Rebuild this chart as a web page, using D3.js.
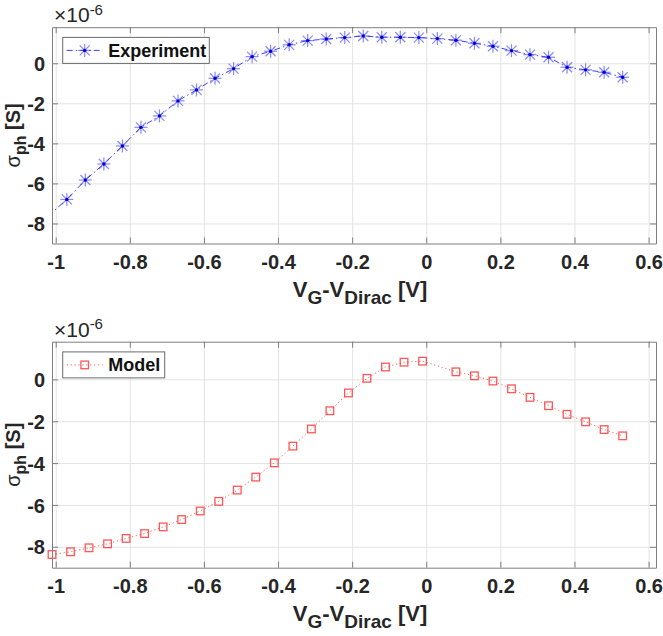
<!DOCTYPE html>
<html><head><meta charset="utf-8">
<script src="https://cdn.jsdelivr.net/npm/d3@7"></script>
<style>body{margin:0;background:#fff}</style>
</head><body>
<svg id="c" width="663" height="636"></svg>
<script>
// ---- data (sigma_ph in units of 1e-6 S) ----
const expX = [-1.02,-0.97,-0.92,-0.87,-0.82,-0.77,-0.72,-0.67,-0.62,-0.57,-0.52,-0.47,-0.42,-0.37,-0.32,-0.27,-0.22,-0.17,-0.12,-0.07,-0.02,0.03,0.08,0.13,0.18,0.23,0.28,0.33,0.38,0.43,0.48,0.53];
const expY = [-7.62,-6.8,-5.83,-5.03,-4.13,-3.2,-2.63,-1.88,-1.33,-0.75,-0.27,0.33,0.6,0.92,1.13,1.21,1.28,1.36,1.3,1.3,1.28,1.23,1.15,1.0,0.85,0.63,0.43,0.3,-0.2,-0.33,-0.45,-0.7];
const modX = [-1.01,-0.96,-0.91,-0.86,-0.81,-0.76,-0.71,-0.66,-0.61,-0.56,-0.51,-0.46,-0.41,-0.36,-0.31,-0.26,-0.21,-0.16,-0.11,-0.06,-0.01,0.08,0.13,0.18,0.23,0.28,0.33,0.38,0.43,0.48,0.53];
const modY = [-8.37,-8.24,-8.05,-7.86,-7.6,-7.37,-7.05,-6.7,-6.29,-5.83,-5.29,-4.67,-3.99,-3.19,-2.37,-1.5,-0.65,0.05,0.59,0.82,0.87,0.36,0.17,-0.08,-0.45,-0.86,-1.26,-1.67,-2.03,-2.4,-2.7];
const xTicks = [-1,-0.8,-0.6,-0.4,-0.2,0,0.2,0.4,0.6];
const xTickLabels = ["-1","-0.8","-0.6","-0.4","-0.2","0","0.2","0.4","0.6"];
const yTicks = [-8,-6,-4,-2,0];
const yTickLabels = ["-8","-6","-4","-2","0"];
const seriesNames = ["Experiment","Model"];
const xDomain = [-1.01, 0.62];
const yDomain = [-9, 1.8];

const svg = d3.select("#c");
const FONT = "'Liberation Sans', Arial, Helvetica, sans-serif";
const TXT = "#262626";
const BOX = "#7f7f7f";

const panels = [
  {left:52, right:656, top:27.2, bottom:243.5, xs:expX, ys:expY, name:seriesNames[0], color:"#2b2bff", marker:"star", dash:"6,3,1.5,3", lw:1, legendW:146.6},
  {left:52, right:656, top:341.7, bottom:567.7, xs:modX, ys:modY, name:seriesNames[1], color:"#ff3a3a", marker:"square", dash:"1.3,2.6", lw:1, legendW:102}
];

panels.forEach((p, i) => {
  const x = d3.scaleLinear().domain(xDomain).range([p.left, p.right]);
  const y = d3.scaleLinear().domain(yDomain).range([p.bottom, p.top]);
  const W = p.right - p.left, H = p.bottom - p.top;
  const g = svg.append("g");

  // grid
  g.append("g").attr("transform", `translate(0,${p.bottom})`)
    .call(d3.axisBottom(x).tickValues(xTicks).tickSize(-H).tickFormat(""))
    .call(s => { s.select(".domain").remove(); s.selectAll("line").attr("stroke", "#e3e3e3").attr("stroke-width", 1); });
  g.append("g").attr("transform", `translate(${p.left},0)`)
    .call(d3.axisLeft(y).tickValues(yTicks).tickSize(-W).tickFormat(""))
    .call(s => { s.select(".domain").remove(); s.selectAll("line").attr("stroke", "#e3e3e3").attr("stroke-width", 1); });

  // clip
  const cid = "clip" + i;
  svg.append("clipPath").attr("id", cid).append("rect")
    .attr("x", p.left).attr("y", p.top).attr("width", W).attr("height", H);

  // data line
  const pts = p.xs.map((v, k) => [v, p.ys[k]]);
  g.append("path").datum(pts).attr("clip-path", `url(#${cid})`)
    .attr("fill", "none").attr("stroke", p.color).attr("stroke-width", p.lw)
    .attr("stroke-dasharray", p.dash).attr("opacity", p.marker === "square" ? 0.75 : 0.9)
    .attr("d", d3.line().x(d => x(d[0])).y(d => y(d[1])));

  const inside = pts.filter(d => d[0] >= xDomain[0] - 1e-9 && d[0] <= xDomain[1]);
  const drawMarker = (sel, cx, cy) => {
    if (p.marker === "star") {
      const r = 6.5, rd = 5;
      const mg = sel.append("g").attr("transform", `translate(${cx},${cy})`)
        .attr("stroke", "#3c3cff").attr("stroke-width", 1.2).attr("opacity", 0.6);
      mg.append("line").attr("x1", 0).attr("y1", -r).attr("x2", 0).attr("y2", r);
      mg.append("line").attr("x1", -r).attr("y1", 0).attr("x2", r).attr("y2", 0);
      mg.append("line").attr("x1", -rd).attr("y1", -rd).attr("x2", rd).attr("y2", rd);
      mg.append("line").attr("x1", -rd).attr("y1", rd).attr("x2", rd).attr("y2", -rd);
      sel.append("circle").attr("cx", cx).attr("cy", cy).attr("r", 1.7).attr("fill", "#0000d0");
    } else {
      const s = 7.6;
      sel.append("rect").attr("x", cx - s / 2).attr("y", cy - s / 2).attr("width", s).attr("height", s)
        .attr("fill", "none").attr("stroke", p.color).attr("stroke-width", 1.3).attr("opacity", 0.85);
    }
  };
  const mk = g.append("g");
  inside.forEach(d => drawMarker(mk, x(d[0]), y(d[1])));

  // box + inward ticks
  const tickStyle = s => { s.select(".domain").attr("stroke", BOX); s.selectAll(".tick line").attr("stroke", BOX); };
  g.append("g").attr("transform", `translate(0,${p.bottom})`)
    .call(d3.axisBottom(x).tickValues(xTicks).tickSizeInner(-6).tickSizeOuter(0).tickFormat((d, k) => xTickLabels[k]))
    .call(tickStyle)
    .call(s => s.selectAll("text").attr("y", 25).attr("dy", null).attr("fill", TXT)
      .style("font-family", FONT).style("font-size", "20px").style("font-weight", "bold"));
  g.append("g").attr("transform", `translate(${p.left},0)`)
    .call(d3.axisLeft(y).tickValues(yTicks).tickSizeInner(-6).tickSizeOuter(0).tickFormat((d, k) => yTickLabels[k]))
    .call(tickStyle)
    .call(s => s.selectAll("text").attr("x", -7).attr("dy", "0.36em").attr("fill", TXT)
      .style("font-family", FONT).style("font-size", "20px").style("font-weight", "bold"));
  g.append("g").attr("transform", `translate(0,${p.top})`)
    .call(d3.axisTop(x).tickValues(xTicks).tickSizeInner(-6).tickSizeOuter(0).tickFormat(""))
    .call(tickStyle);
  g.append("g").attr("transform", `translate(${p.right},0)`)
    .call(d3.axisRight(y).tickValues(yTicks).tickSizeInner(-6).tickSizeOuter(0).tickFormat(""))
    .call(tickStyle);

  // exponent label
  const ex = g.append("text").attr("x", p.left + 2).attr("y", p.top - 5)
    .attr("fill", TXT).style("font-family", FONT).style("font-size", "21px");
  ex.append("tspan").text("×10");
  ex.append("tspan").attr("dy", -7.5).style("font-size", "15px").text("-6");

  // y label
  const yl = g.append("text")
    .attr("transform", `translate(20,${(p.top + p.bottom) / 2}) rotate(-90)`)
    .attr("text-anchor", "middle").attr("fill", TXT)
    .style("font-family", FONT).style("font-size", "20px");
  yl.append("tspan").text("σ");
  yl.append("tspan").attr("dy", 6).style("font-size", "16px").style("font-weight", "bold").text("ph");
  yl.append("tspan").attr("dy", -6).style("font-weight", "bold").text(" [S]");

  // x label
  const xl = g.append("text").attr("x", 360).attr("y", p.bottom + 53)
    .attr("text-anchor", "middle").attr("fill", TXT)
    .style("font-family", FONT).style("font-size", "22px").style("font-weight", "bold");
  xl.append("tspan").text("V");
  xl.append("tspan").attr("dy", 7).style("font-size", "19px").text("G");
  xl.append("tspan").attr("dy", -7).text("-V");
  xl.append("tspan").attr("dy", 7).style("font-size", "19px").text("Dirac");
  xl.append("tspan").attr("dy", -7).text(" [V]");

  // legend
  const lx = 62.7, ly = p.top + 10.2, lh = 26;
  const lg = g.append("g");
  lg.append("rect").attr("x", lx).attr("y", ly).attr("width", p.legendW).attr("height", lh)
    .attr("fill", "#fff").attr("stroke", "#6a6a6a").attr("stroke-width", 1);
  lg.append("line").attr("x1", lx + 4).attr("x2", lx + 40).attr("y1", ly + lh / 2).attr("y2", ly + lh / 2)
    .attr("stroke", p.color).attr("stroke-width", p.lw).attr("stroke-dasharray", p.dash)
    .attr("opacity", p.marker === "square" ? 0.75 : 0.9);
  drawMarker(lg, lx + 22, ly + lh / 2);
  lg.append("text").attr("x", lx + 45.6).attr("y", ly + lh / 2).attr("dy", "0.36em")
    .attr("fill", "#111").style("font-family", FONT).style("font-size", "18px").style("font-weight", "bold")
    .text(p.name);
});
</script>
</body></html>
